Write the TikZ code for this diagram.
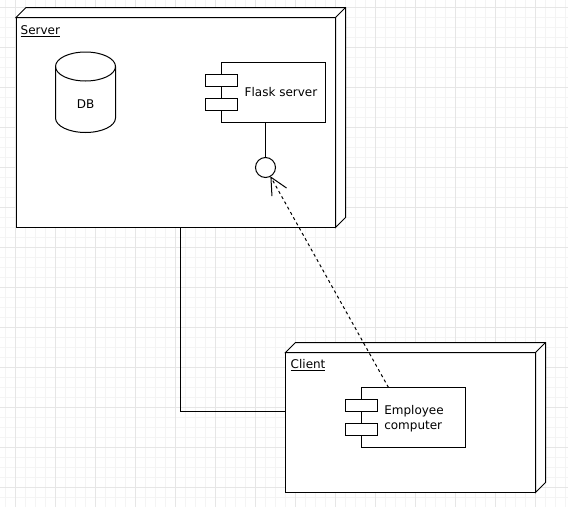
\documentclass[tikz,border=0pt]{standalone}
\usepackage{fontspec}
\setmainfont{DejaVu Sans}
\usetikzlibrary{arrows.meta,calc}
\definecolor{gridmajor}{HTML}{E6E6E6}
\definecolor{gridminor}{HTML}{F4F4F4}
\begin{document}
\begin{tikzpicture}[x=0.75pt,y=-0.75pt,
  line width=0.75pt,
  font=\fontsize{9}{10.9}\selectfont,
  every node/.style={inner sep=0pt, outer sep=0pt},
  box/.style={draw=black, fill=white, rectangle},
  port/.style={draw=black, fill=white, rectangle, minimum width=24pt, minimum height=9pt},
  iface/.style={draw=black, fill=white, circle, minimum size=15pt},
  conn/.style={draw=black},
  depends/.style={draw=black, dash pattern=on 2.25pt off 2.25pt,
    -{Straight Barb[length=12.75pt, width=12.5pt, line width=0.75pt]}},
]
% canvas and grid
\fill[white] (0,0) rectangle (568,507);
\useasboundingbox (0,0) rectangle (568,507);
\foreach \x in {5,15,...,565} \draw[gridminor] (\x+0.5,0) -- (\x+0.5,507);
\foreach \y in {7,17,...,507} \draw[gridminor] (0,\y+0.5) -- (568,\y+0.5);
\foreach \x in {15,55,...,565} \draw[gridmajor] (\x+0.5,0) -- (\x+0.5,507);
\foreach \y in {7,47,...,507} \draw[gridmajor] (0,\y+0.5) -- (568,\y+0.5);

% Server node (3D box)
\node[box, minimum width=319.5*0.75pt, minimum height=210*0.75pt] (server) at (175.75,122.5) {};
\draw[fill=white, line join=miter] (server.north west) -- ++(10,-10)
  -- ($(server.north east)+(10,-10)$) -- ($(server.south east)+(10,-10)$)
  -- (server.south east) -- (server.north east) -- cycle;
\draw (server.north east) -- ++(10,-10);
\node[anchor=base west] (serverlabel) at (20.7,34) {\underline{Server}};

% database
\draw[fill=white] (55.5,66.5) -- (55.5,118)
  arc[start angle=180, end angle=0, x radius=30, y radius=14.5]
  -- (115.5,66.5)
  arc[start angle=0, end angle=-180, x radius=30, y radius=14.5] -- cycle;
\draw (55.5,66.5) arc[start angle=180, end angle=0, x radius=30, y radius=14.5];
\node (db) at (85.5,104.5) {DB};

% Flask server component
\node[box, minimum width=104.5*0.75pt, minimum height=60*0.75pt] (flask) at (273.25,92.5) {};
\node[port] (flaskp1) at ([yshift=9pt]flask.west) {};
\node[port] (flaskp2) at ([yshift=-9pt]flask.west) {};
\node (flasktext) at (281,92.5) {Flask server};

% provided interface
\node[iface] (api) at (265.5,167.5) {};
\draw[conn] (api.north) -- (api.north |- flask.south);

% Client node (3D box)
\node[box, minimum width=250*0.75pt, minimum height=140*0.75pt] (client) at (410.5,422.5) {};
\draw[fill=white, line join=miter] (client.north west) -- ++(10,-10)
  -- ($(client.north east)+(10,-10)$) -- ($(client.south east)+(10,-10)$)
  -- (client.south east) -- (client.north east) -- cycle;
\draw (client.north east) -- ++(10,-10);
\node[anchor=base west] (clientlabel) at (290.7,368.3) {\underline{Client}};

% Employee computer component
\node[box, minimum width=104*0.75pt, minimum height=60*0.75pt] (emp) at (413.5,417.5) {};
\node[port] (empp1) at ([yshift=9pt]emp.west) {};
\node[port] (empp2) at ([yshift=-9pt]emp.west) {};
\node[anchor=west, align=left] (emptext) at (384.3,418.6) {Employee\\computer};

% connectors
\draw[conn] ([xshift=3.7pt]server.south) |- ([yshift=7.9pt]client.west);
\draw[depends] ([xshift=-18.75pt]emp.north) -- (api);
\end{tikzpicture}
\end{document}
